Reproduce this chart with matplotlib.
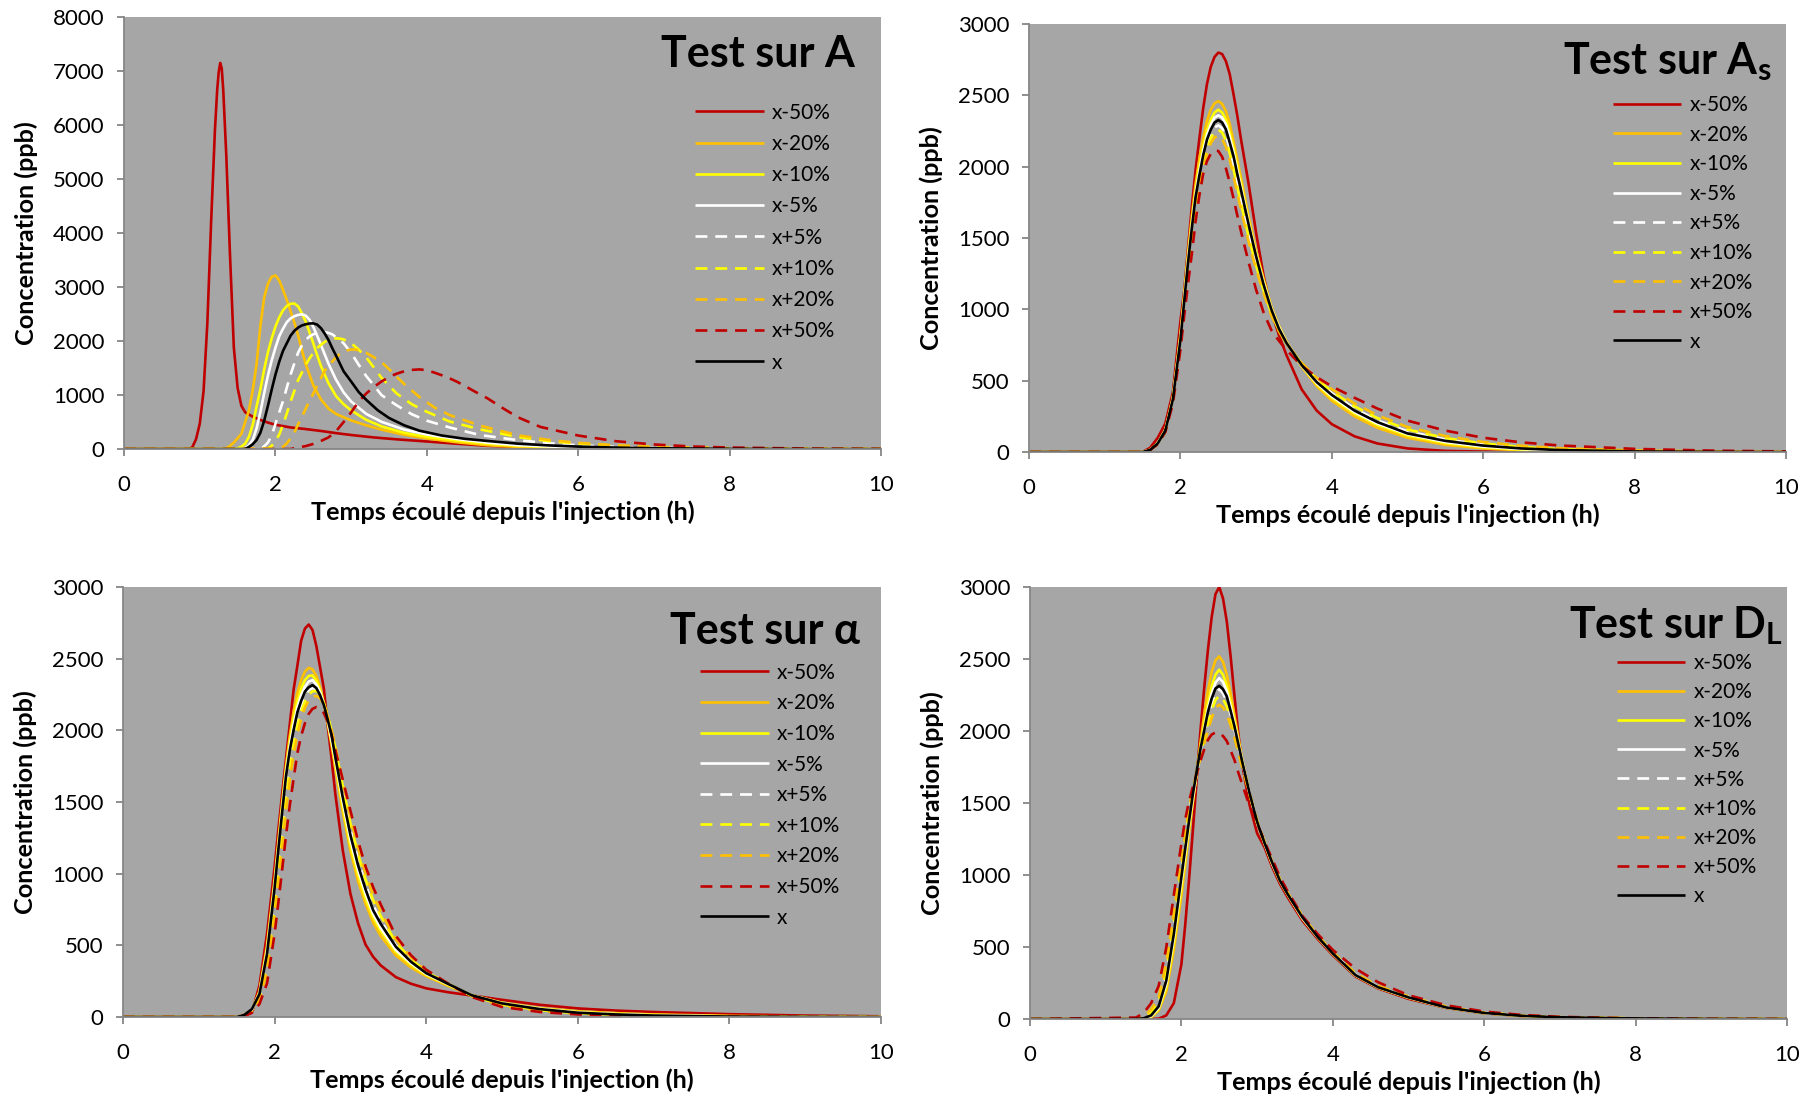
import matplotlib
matplotlib.use("Agg")
import matplotlib.pyplot as plt

plt.rcParams['font.family'] = ['Lato', 'DejaVu Sans']
plt.rcParams['mathtext.fontset'] = 'custom'
plt.rcParams['mathtext.rm'] = 'Lato'
plt.rcParams['mathtext.bf'] = 'Lato:bold'

labels = ['x-50%', 'x-20%', 'x-10%', 'x-5%', 'x+5%', 'x+10%', 'x+20%', 'x+50%', 'x']
colors = ['#C00000', '#FFC000', '#FFFF00', '#FFFFFF', '#FFFFFF', '#FFFF00', '#FFC000', '#C00000', '#000000']
dashed = [False, False, False, False, True, True, True, True, False]

# ---------------- Test sur A : chaque courbe a ses propres instants (h) / concentrations (ppb)
A_m50_t = [0, 0.85, 0.9, 0.95, 1.0, 1.05, 1.1, 1.15, 1.2, 1.23, 1.25, 1.27, 1.29, 1.31, 1.35, 1.4, 1.45, 1.5, 1.55,
           1.6, 1.7, 1.8, 1.9, 2.0, 2.2, 2.4, 2.6, 2.8, 3.0, 3.3, 3.6, 4.0, 4.4, 4.8, 5.2, 5.6, 6.0, 6.5, 7, 8, 10]
A_m50 = [0, 0, 30, 180, 470, 1070, 2330, 4210, 5900, 6650, 6980, 7150, 7050, 6650, 5440, 3570, 1880, 1130, 800,
         680, 600, 540, 490, 450, 400, 370, 335, 295, 260, 215, 180, 140, 98, 60, 40, 25, 15, 7, 3, 1, 0]
A_m20_t = [0, 1.3, 1.35, 1.4, 1.45, 1.5, 1.55, 1.6, 1.65, 1.7, 1.75, 1.8, 1.85, 1.9, 1.95, 2.0, 2.05, 2.1, 2.15,
           2.2, 2.25, 2.3, 2.35, 2.4, 2.5, 2.6, 2.7, 2.8, 3.0, 3.2, 3.4, 3.7, 4.0, 4.4, 4.8, 5.2, 6.0, 7, 8, 10]
A_m20 = [0, 0, 15, 60, 120, 200, 285, 500, 720, 1090, 1570, 2270, 2800, 3060, 3190, 3215, 3120, 2944, 2760,
         2550, 2340, 2100, 1830, 1570, 1180, 920, 750, 650, 530, 440, 360, 265, 195, 125, 70, 40, 12, 2, 0, 0]
A_m10_t = [0, 1.45, 1.5, 1.55, 1.6, 1.65, 1.7, 1.75, 1.8, 1.85, 1.9, 1.95, 2.0, 2.05, 2.1, 2.15, 2.2, 2.25, 2.3,
           2.35, 2.4, 2.45, 2.5, 2.55, 2.6, 2.7, 2.8, 2.9, 3.0, 3.2, 3.4, 3.7, 4.0, 4.4, 4.8, 5.2, 6.0, 7, 8, 10]
A_m10 = [0, 0, 15, 45, 100, 230, 450, 784, 1100, 1470, 1790, 2050, 2270, 2440, 2570, 2650, 2690, 2695, 2640,
         2510, 2360, 2160, 1955, 1740, 1540, 1220, 980, 830, 715, 540, 420, 300, 225, 155, 100, 60, 20, 4, 1, 0]
A_m5_t = [0, 1.55, 1.6, 1.65, 1.7, 1.75, 1.8, 1.85, 1.9, 1.95, 2.0, 2.05, 2.1, 2.15, 2.2, 2.25, 2.3, 2.35, 2.4,
          2.45, 2.5, 2.55, 2.6, 2.65, 2.7, 2.8, 2.9, 3.0, 3.2, 3.4, 3.7, 4.0, 4.4, 4.8, 5.2, 6.0, 7, 8, 10]
A_m5 = [0, 0, 20, 70, 170, 380, 680, 1030, 1360, 1640, 1880, 2090, 2230, 2350, 2420, 2460, 2485, 2495, 2470,
        2395, 2260, 2100, 1930, 1755, 1580, 1285, 1050, 880, 650, 505, 360, 270, 185, 120, 72, 26, 6, 1, 0]
A_p5_t = [0, 1.8, 1.85, 1.9, 1.95, 2.0, 2.05, 2.1, 2.15, 2.2, 2.25, 2.3, 2.35, 2.4, 2.45, 2.5, 2.55, 2.6, 2.65,
          2.7, 2.75, 2.8, 2.9, 3.0, 3.1, 3.2, 3.3, 3.4, 3.6, 3.8, 4.0, 4.3, 4.7, 5.2, 5.6, 6.0, 6.5, 7, 8, 9, 10]
A_p5 = [0, 10, 50, 120, 250, 470, 680, 890, 1140, 1380, 1590, 1790, 1920, 2020, 2085, 2125, 2155, 2170, 2165,
        2150, 2125, 2070, 1960, 1780, 1560, 1350, 1180, 1000, 810, 645, 525, 400, 260, 165, 110, 70, 40, 22, 7, 2, 0]
A_p10_t = [0, 1.9, 1.95, 2.0, 2.05, 2.1, 2.15, 2.2, 2.25, 2.3, 2.35, 2.4, 2.45, 2.5, 2.55, 2.6, 2.65, 2.7, 2.75,
           2.8, 2.85, 2.9, 3.0, 3.1, 3.2, 3.3, 3.4, 3.6, 3.8, 4.0, 4.3, 4.7, 5.2, 5.6, 6.0, 6.5, 7, 8, 9, 10]
A_p10 = [0, 10, 60, 150, 270, 450, 660, 880, 1080, 1280, 1420, 1560, 1680, 1780, 1870, 1930, 1985, 2020, 2045,
         2050, 2045, 2030, 1960, 1840, 1695, 1510, 1320, 1030, 830, 690, 510, 365, 225, 150, 100, 60, 35, 12, 4, 1]
A_p20_t = [0, 2.05, 2.1, 2.15, 2.2, 2.25, 2.3, 2.35, 2.4, 2.45, 2.5, 2.55, 2.6, 2.65, 2.7, 2.75, 2.8, 2.85, 2.9,
           2.95, 3.0, 3.05, 3.1, 3.2, 3.3, 3.4, 3.5, 3.6, 3.7, 3.9, 4.1, 4.3, 4.7, 5.2, 5.6, 6.0, 6.5, 7, 8, 9, 10]
A_p20 = [0, 0, 40, 105, 200, 310, 460, 600, 750, 890, 1030, 1170, 1310, 1450, 1540, 1620, 1700, 1760, 1805,
         1830, 1843, 1845, 1830, 1780, 1700, 1610, 1480, 1340, 1205, 965, 770, 630, 435, 255, 170, 115, 70, 42, 15, 5, 1]
A_p50_t = [0, 2.2, 2.3, 2.4, 2.5, 2.6, 2.7, 2.8, 2.9, 3.0, 3.1, 3.2, 3.3, 3.4, 3.5, 3.6, 3.7, 3.8, 3.9, 4.0,
           4.1, 4.2, 4.3, 4.4, 4.5, 4.6, 4.8, 5.0, 5.2, 5.5, 6.0, 6.5, 7, 7.5, 8, 9, 10]
A_p50 = [0, 0, 30, 55, 95, 150, 215, 330, 500, 680, 880, 1030, 1150, 1250, 1335, 1395, 1440, 1465, 1475, 1460,
         1415, 1365, 1310, 1245, 1170, 1090, 940, 760, 590, 410, 250, 145, 85, 48, 28, 9, 3]
A_x_t = [0, 1.6, 1.65, 1.7, 1.75, 1.8, 1.85, 1.9, 1.95, 2.0, 2.05, 2.1, 2.15, 2.2, 2.25, 2.3, 2.35, 2.4, 2.45,
         2.5, 2.55, 2.6, 2.65, 2.7, 2.75, 2.8, 2.9, 3.0, 3.1, 3.2, 3.35, 3.5, 3.7, 3.9, 4.2, 4.5, 4.8, 5.2, 5.6,
         6.0, 6.5, 7, 8, 9, 10]
A_x = [0, 0, 40, 90, 167, 300, 520, 800, 1100, 1380, 1620, 1820, 1960, 2100, 2190, 2250, 2290, 2310, 2325,
       2327, 2305, 2240, 2140, 2020, 1870, 1730, 1440, 1250, 1055, 910, 720, 575, 440, 340, 250, 190, 150, 100, 68,
       45, 27, 15, 5, 1, 0]

# ---------------- instants communs aux trois autres tests (h)
t_grid = [0, 1.4, 1.5, 1.6, 1.7, 1.8, 1.9, 2.0, 2.05, 2.1, 2.15, 2.2, 2.25, 2.3, 2.35, 2.4, 2.45, 2.5, 2.55, 2.6,
          2.65, 2.7, 2.75, 2.8, 2.9, 3.0, 3.1, 3.2, 3.3, 3.4, 3.6, 3.8, 4.0, 4.3, 4.6, 5.0, 5.5, 6.0, 6.5, 7, 8, 9, 10]

# Test sur As
As_m50 = [0, 0, 0, 30, 100, 200, 420, 920, 1130, 1430, 1720, 1980, 2200, 2410, 2580, 2700, 2770, 2800, 2790, 2740,
          2650, 2510, 2360, 2190, 1880, 1533, 1230, 990, 820, 680, 440, 290, 195, 110, 60, 25, 8, 3, 1, 0, 0, 0, 0]
As_m20 = [0, 0, 0, 15, 62, 155, 385, 830, 1110, 1400, 1650, 1880, 2060, 2200, 2320, 2400, 2445, 2460, 2440, 2390,
          2300, 2180, 2050, 1920, 1650, 1410, 1210, 1020, 885, 775, 600, 462, 360, 250, 170, 100, 50, 25, 12, 6, 1, 0, 0]
As_m10 = [0, 0, 0, 15, 61, 152, 378, 810, 1085, 1365, 1610, 1830, 2000, 2140, 2255, 2330, 2380, 2400, 2380, 2330,
          2240, 2130, 2000, 1880, 1620, 1390, 1195, 1010, 880, 772, 605, 475, 380, 270, 190, 115, 62, 33, 17, 9, 2, 0, 0]
As_m5 = [0, 0, 0, 15, 60, 151, 374, 800, 1072, 1348, 1590, 1810, 1970, 2110, 2220, 2295, 2345, 2360, 2345, 2298,
         2210, 2100, 1975, 1855, 1605, 1380, 1182, 1005, 875, 768, 608, 482, 390, 280, 200, 125, 70, 38, 21, 11, 3, 1, 0]
As_p5 = [0, 0, 0, 15, 59, 149, 366, 780, 1045, 1310, 1550, 1765, 1925, 2050, 2155, 2230, 2275, 2290, 2270, 2220,
         2130, 2020, 1895, 1775, 1540, 1330, 1150, 985, 860, 765, 615, 500, 412, 305, 222, 145, 88, 52, 30, 17, 6, 2, 0]
As_p10 = [0, 0, 0, 15, 58, 147, 362, 770, 1030, 1290, 1525, 1740, 1895, 2020, 2125, 2200, 2245, 2260, 2240, 2185,
          2095, 1985, 1860, 1740, 1510, 1305, 1130, 972, 852, 762, 620, 510, 425, 320, 238, 158, 98, 60, 36, 21, 8, 3, 1]
As_p20 = [0, 0, 0, 15, 57, 145, 357, 760, 1015, 1265, 1495, 1705, 1860, 1985, 2090, 2165, 2205, 2220, 2195, 2140,
          2050, 1940, 1815, 1700, 1475, 1280, 1110, 958, 845, 760, 625, 520, 440, 340, 258, 175, 112, 70, 44, 27, 11, 4, 1]
As_p50 = [0, 0, 0, 14, 55, 140, 340, 720, 960, 1180, 1390, 1620, 1800, 1950, 2040, 2090, 2115, 2110, 2070, 1990,
          1890, 1780, 1660, 1545, 1330, 1136, 975, 855, 780, 715, 605, 525, 460, 380, 305, 220, 150, 100, 68, 46, 22, 10, 4]
As_x = [0, 0, 0, 15, 60, 150, 370, 790, 1060, 1330, 1570, 1790, 1940, 2080, 2190, 2260, 2310, 2327, 2310, 2262,
        2170, 2075, 1950, 1835, 1595, 1370, 1170, 1000, 865, 765, 610, 490, 400, 290, 210, 130, 78, 45, 25, 14, 4, 1, 0]

# Test sur alpha
al_m50 = [0, 0, 0, 15, 30, 220, 580, 1047, 1310, 1560, 1800, 2040, 2280, 2450, 2625, 2710, 2738, 2700, 2590, 2440,
          2290, 2035, 1810, 1560, 1160, 860, 655, 505, 420, 360, 278, 232, 200, 172, 150, 120, 85, 60, 45, 35, 20, 10, 5]
al_m20 = [0, 0, 0, 15, 45, 180, 500, 960, 1230, 1500, 1750, 1960, 2130, 2260, 2350, 2410, 2436, 2425, 2380, 2300,
          2190, 2050, 1900, 1740, 1430, 1160, 950, 790, 660, 565, 430, 345, 285, 215, 152, 100, 62, 40, 27, 18, 8, 3, 1]
al_m10 = [0, 0, 0, 15, 50, 172, 475, 935, 1200, 1465, 1715, 1915, 2080, 2200, 2290, 2350, 2380, 2383, 2345, 2280,
          2180, 2060, 1920, 1770, 1470, 1200, 995, 830, 695, 600, 455, 365, 295, 222, 152, 98, 59, 35, 22, 14, 5, 2, 0]
al_m5 = [0, 0, 0, 15, 52, 166, 458, 918, 1185, 1448, 1697, 1890, 2040, 2160, 2245, 2305, 2340, 2350, 2320, 2265,
         2178, 2068, 1935, 1793, 1500, 1235, 1028, 860, 720, 622, 468, 375, 300, 225, 152, 96, 57, 32, 20, 12, 4, 1, 0]
al_p5 = [0, 0, 0, 13, 48, 145, 400, 830, 1090, 1330, 1590, 1800, 1965, 2090, 2180, 2240, 2280, 2295, 2285, 2250,
         2180, 2090, 1975, 1845, 1570, 1310, 1100, 925, 780, 675, 500, 395, 310, 227, 150, 90, 52, 29, 17, 10, 3, 1, 0]
al_p10 = [0, 0, 0, 11, 44, 132, 360, 770, 1020, 1260, 1520, 1730, 1900, 2030, 2130, 2200, 2250, 2272, 2275, 2250,
          2190, 2105, 2000, 1880, 1610, 1350, 1140, 960, 815, 705, 520, 405, 315, 228, 148, 86, 48, 26, 15, 8, 2, 1, 0]
al_p20 = [0, 0, 0, 9, 38, 118, 320, 700, 940, 1180, 1440, 1650, 1830, 1970, 2080, 2160, 2210, 2235, 2240, 2225,
          2175, 2100, 2005, 1895, 1640, 1390, 1180, 1000, 850, 735, 540, 415, 320, 229, 145, 80, 43, 23, 12, 7, 2, 0, 0]
al_p50 = [0, 0, 0, 5, 30, 90, 235, 580, 800, 1030, 1265, 1475, 1660, 1840, 1960, 2050, 2115, 2150, 2162, 2150,
          2120, 2060, 1970, 1865, 1655, 1440, 1230, 1050, 905, 785, 565, 430, 330, 230, 140, 70, 35, 18, 9, 5, 1, 0, 0]
al_x = [0, 0, 0, 15, 55, 160, 440, 900, 1170, 1430, 1680, 1860, 2000, 2125, 2205, 2270, 2300, 2315, 2295, 2245,
        2175, 2075, 1970, 1815, 1530, 1270, 1060, 890, 745, 650, 490, 385, 306, 228, 152, 95, 55, 30, 18, 10, 3, 1, 0]

# Test sur DL
DL_m50 = [0, 0, 0, 0, 2, 25, 110, 380, 650, 960, 1300, 1650, 1990, 2290, 2560, 2790, 2950, 3000, 2920, 2760,
          2520, 2250, 1990, 1780, 1488, 1290, 1190, 1055, 940, 848, 683, 556, 443, 295, 212, 140, 77, 40, 21, 11, 3, 1, 0]
DL_m20 = [0, 0, 0, 12, 60, 190, 480, 860, 1070, 1300, 1500, 1700, 1910, 2110, 2280, 2410, 2490, 2518, 2480, 2390,
          2260, 2110, 1960, 1810, 1565, 1365, 1215, 1077, 958, 866, 697, 567, 452, 302, 217, 147, 79, 41, 21, 11, 4, 1, 0]
DL_m10 = [0, 0, 2, 16, 70, 220, 530, 915, 1115, 1325, 1510, 1700, 1880, 2045, 2190, 2310, 2390, 2426, 2390, 2315,
          2200, 2070, 1935, 1805, 1567, 1367, 1217, 1078, 960, 868, 698, 568, 453, 303, 218, 148, 79, 41, 22, 12, 4, 1, 0]
DL_m5 = [0, 0, 3, 20, 78, 245, 565, 955, 1150, 1355, 1530, 1700, 1860, 2010, 2150, 2260, 2335, 2368, 2340, 2275,
         2170, 2050, 1925, 1802, 1568, 1368, 1218, 1079, 961, 869, 699, 569, 454, 304, 219, 149, 80, 42, 22, 12, 4, 1, 0]
DL_p5 = [0, 0, 8, 32, 100, 295, 630, 1005, 1205, 1415, 1565, 1710, 1850, 1975, 2090, 2190, 2262, 2290, 2262, 2205,
         2115, 2015, 1900, 1790, 1572, 1373, 1223, 1083, 965, 873, 708, 573, 458, 308, 222, 152, 82, 43, 23, 12, 4, 1, 0]
DL_p10 = [0, 0, 12, 45, 120, 330, 670, 1040, 1235, 1435, 1575, 1705, 1830, 1945, 2050, 2145, 2215, 2245, 2222, 2170,
          2085, 1990, 1880, 1775, 1570, 1375, 1225, 1086, 968, 876, 711, 576, 461, 311, 225, 154, 84, 44, 23, 12, 4, 1, 0]
DL_p20 = [0, 3, 18, 65, 150, 390, 740, 1100, 1285, 1460, 1590, 1705, 1810, 1910, 2000, 2090, 2160, 2183, 2165, 2115,
          2040, 1955, 1855, 1755, 1560, 1375, 1228, 1090, 973, 880, 715, 580, 465, 318, 230, 157, 86, 45, 24, 12, 4, 1, 0]
DL_p50 = [0, 10, 40, 110, 230, 495, 860, 1220, 1385, 1510, 1610, 1700, 1790, 1870, 1938, 1975, 1990, 1988, 1965, 1930,
          1865, 1800, 1715, 1635, 1480, 1360, 1230, 1110, 990, 890, 715, 590, 480, 350, 255, 165, 95, 52, 28, 15, 4, 1, 0]
DL_x = [0, 0, 5, 25, 88, 265, 590, 985, 1180, 1370, 1555, 1715, 1870, 2000, 2130, 2225, 2295, 2314, 2290, 2240,
        2140, 2035, 1915, 1795, 1570, 1370, 1220, 1085, 962, 870, 705, 570, 455, 305, 220, 150, 80, 42, 22, 12, 4, 1, 0]

fig = plt.figure(figsize=(18.14, 10.99), dpi=100)

panel_A = [(A_m50_t, A_m50), (A_m20_t, A_m20), (A_m10_t, A_m10), (A_m5_t, A_m5), (A_p5_t, A_p5),
           (A_p10_t, A_p10), (A_p20_t, A_p20), (A_p50_t, A_p50), (A_x_t, A_x)]
panel_As = [(t_grid, s) for s in [As_m50, As_m20, As_m10, As_m5, As_p5, As_p10, As_p20, As_p50, As_x]]
panel_al = [(t_grid, s) for s in [al_m50, al_m20, al_m10, al_m5, al_p5, al_p10, al_p20, al_p50, al_x]]
panel_DL = [(t_grid, s) for s in [DL_m50, DL_m20, DL_m10, DL_m5, DL_p5, DL_p10, DL_p20, DL_p50, DL_x]]

panels = [
    # rect, series, ymax, title, title xy, legend xy, labelspacing
    ([0.0684, 0.5914, 0.4173, 0.3931], panel_A, 8000, 'Test sur A', (0.966, 0.96), (0.754, 0.802), 0.54),
    ([0.5673, 0.5887, 0.4173, 0.3894], panel_As, 3000, r'Test sur A$_\mathbf{s}$', (0.98, 0.962), (0.771, 0.834), 0.46),
    ([0.0678, 0.0746, 0.4179, 0.3913], panel_al, 3000, 'Test sur α', (0.972, 0.945), (0.761, 0.824), 0.51),
    ([0.5678, 0.0728, 0.4173, 0.3931], panel_DL, 3000, r'Test sur D$_\mathbf{L}$', (0.995, 0.96), (0.775, 0.847), 0.44),
]

for rect, series, ymax, title, txy, lxy, lsp in panels:
    ax = fig.add_axes(rect)
    ax.set_facecolor('#A6A6A6')
    for (t, y), lab, c, d in zip(series, labels, colors, dashed):
        line, = ax.plot(t, y, color=c, lw=1.9, label=lab, solid_capstyle='butt', solid_joinstyle='round')
        if d:
            line.set_dashes((4.5, 3))
    ax.set_xlim(0, 10)
    ax.set_ylim(0, ymax)
    ax.set_xticks(range(0, 11, 2))
    ax.set_yticks(range(0, ymax + 1, 1000 if ymax == 8000 else 500))
    for s in ['top', 'right']:
        ax.spines[s].set_visible(False)
    for s in ['left', 'bottom']:
        ax.spines[s].set_color('#868686')
        ax.spines[s].set_linewidth(1.3)
    ax.tick_params(axis='both', colors='#868686', labelcolor='black', length=5, width=1.3, labelsize=16)
    ax.tick_params(axis='x', pad=14)
    ax.tick_params(axis='y', pad=9)
    ax.set_xlabel("Temps écoulé depuis l'injection (h)", fontsize=18.2, fontweight='bold')
    ax.set_ylabel('Concentration (ppb)', fontsize=18.2, fontweight='bold')
    ax.xaxis.set_label_coords(0.5, -0.12)
    ax.yaxis.set_label_coords(-0.114, 0.5)
    ax.text(txy[0], txy[1], title, transform=ax.transAxes, ha='right', va='top',
            fontsize=31, fontweight='bold')
    ax.legend(loc='upper left', bbox_to_anchor=lxy, frameon=False, fontsize=15,
              handlelength=3.3, handletextpad=0.4, labelspacing=lsp, borderpad=0, borderaxespad=0)

fig.savefig('out.png', dpi=100)
